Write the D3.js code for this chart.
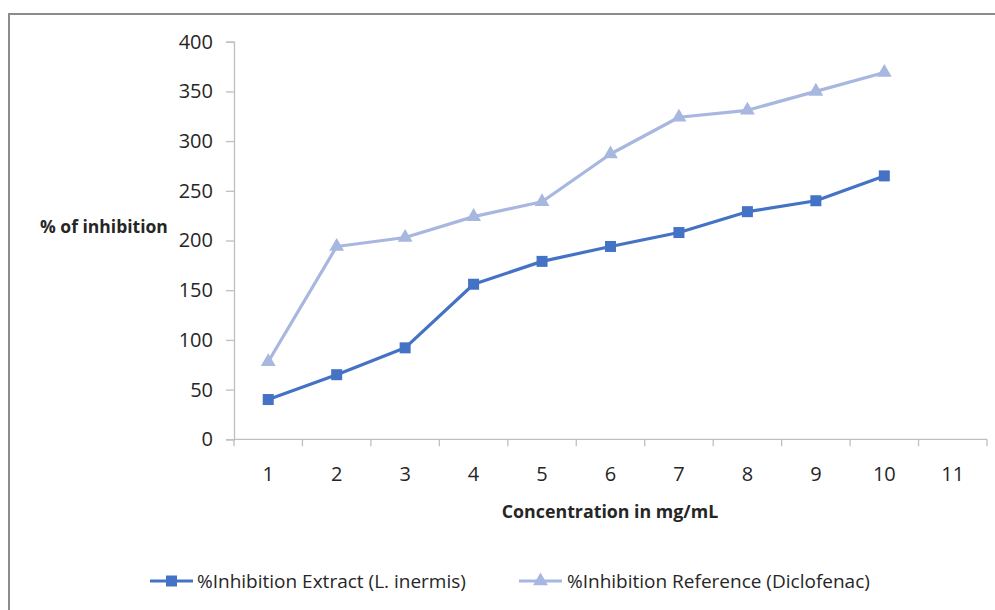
<!DOCTYPE html>
<html>
<head>
<meta charset="utf-8">
<script src="https://cdn.jsdelivr.net/npm/d3@7"></script>
<style>
  html, body { margin: 0; padding: 0; background: #fff; }
  svg { display: block; }
  text { font-family: "Open Sans", "DejaVu Sans", sans-serif; fill: #262626; }
</style>
</head>
<body>
<svg id="chart" width="995" height="610"></svg>
<script>
// Concentration levels (mg/mL) on the category axis
const categories = ["1", "2", "3", "4", "5", "6", "7", "8", "9", "10", "11"];
// % inhibition, Lawsonia inermis extract
const extractValues = [40, 65, 92, 156, 179, 194, 208, 229, 240, 265];
// % inhibition, diclofenac reference
const referenceValues = [78, 194, 203, 224, 239, 287, 324, 331, 350, 369];
const yTicks = [0, 50, 100, 150, 200, 250, 300, 350, 400];
const seriesNames = ["%Inhibition Extract (L. inermis)", "%Inhibition Reference (Diclofenac)"];

const colorExtract = "#4472C4";
const colorReference = "#A7B7E0";
const axisColor = "#BFBFBF";

const svg = d3.select("#chart");

// Outer chart frame
svg.append("path")
  .attr("d", "M9,610 L9,14 L995,14")
  .attr("fill", "none")
  .attr("stroke", "#8C8C8C")
  .attr("stroke-width", 2);

const plot = { left: 234, right: 987, top: 41.7, bottom: 439.3 };

const x = d3.scaleBand()
  .domain(categories)
  .range([plot.left, plot.right])
  .paddingInner(0).paddingOuter(0);

const y = d3.scaleLinear()
  .domain([0, 400])
  .range([plot.bottom, plot.top]);

// Y axis
const yAxis = svg.append("g")
  .attr("transform", `translate(${plot.left},0)`)
  .call(d3.axisLeft(y).tickValues(yTicks).tickSize(8).tickPadding(13));
yAxis.select(".domain").attr("stroke", axisColor).attr("stroke-width", 1.3);
yAxis.selectAll(".tick line").attr("stroke", axisColor).attr("stroke-width", 1.3);
yAxis.selectAll(".tick text")
  .attr("font-size", 20)
  .attr("font-family", "Open Sans, sans-serif")
  .attr("fill", "#262626");

// X axis: category axis with tick marks between categories
const xAxis = svg.append("g")
  .attr("transform", `translate(0,${plot.bottom})`);
xAxis.append("line")
  .attr("x1", plot.left).attr("x2", plot.right)
  .attr("y1", 0).attr("y2", 0)
  .attr("stroke", axisColor).attr("stroke-width", 1.3);
const boundaries = categories.map(c => x(c)).concat([x(categories[categories.length - 1]) + x.bandwidth()]);
xAxis.selectAll("line.tk")
  .data(boundaries)
  .join("line")
  .attr("class", "tk")
  .attr("x1", d => d).attr("x2", d => d)
  .attr("y1", 0).attr("y2", 7)
  .attr("stroke", axisColor).attr("stroke-width", 1.3);
xAxis.selectAll("text.lbl")
  .data(categories)
  .join("text")
  .attr("class", "lbl")
  .attr("x", d => x(d) + x.bandwidth() / 2)
  .attr("y", 41.5)
  .attr("text-anchor", "middle")
  .attr("font-size", 20)
  .text(d => d);

// Axis titles
svg.append("text")
  .attr("x", 40).attr("y", 233)
  .attr("font-size", 17.5)
  .attr("font-weight", "bold")
  .attr("fill", "#111")
  .text("% of inhibition");
svg.append("text")
  .attr("x", 610).attr("y", 518)
  .attr("text-anchor", "middle")
  .attr("font-size", 17.8)
  .attr("font-weight", "bold")
  .attr("fill", "#111")
  .text("Concentration in mg/mL");

const cx = (d, i) => x(categories[i]) + x.bandwidth() / 2;
const line = d3.line().x(cx).y(d => y(d));

const tri = d3.symbol().type(d3.symbolTriangle).size(95);

// Reference series
svg.append("path")
  .datum(referenceValues)
  .attr("fill", "none")
  .attr("stroke", colorReference)
  .attr("stroke-width", 3.2)
  .attr("stroke-linejoin", "round")
  .attr("d", line);
svg.selectAll("path.tri")
  .data(referenceValues)
  .join("path")
  .attr("class", "tri")
  .attr("transform", (d, i) => `translate(${cx(d, i)},${y(d)})`)
  .attr("d", tri)
  .attr("fill", colorReference);

// Extract series
svg.append("path")
  .datum(extractValues)
  .attr("fill", "none")
  .attr("stroke", colorExtract)
  .attr("stroke-width", 3.2)
  .attr("stroke-linejoin", "round")
  .attr("d", line);
svg.selectAll("rect.sq")
  .data(extractValues)
  .join("rect")
  .attr("class", "sq")
  .attr("x", (d, i) => cx(d, i) - 5.5)
  .attr("y", d => y(d) - 5.5)
  .attr("width", 11).attr("height", 11)
  .attr("fill", colorExtract);

// Legend
const legendY = 581;
const legendItems = [
  { name: seriesNames[0], color: colorExtract, marker: "square", x0: 150, text: 197 },
  { name: seriesNames[1], color: colorReference, marker: "triangle", x0: 519, text: 567 }
];
const lg = svg.append("g");
legendItems.forEach(it => {
  lg.append("line")
    .attr("x1", it.x0).attr("x2", it.x0 + 43)
    .attr("y1", legendY).attr("y2", legendY)
    .attr("stroke", it.color).attr("stroke-width", 3.2);
  if (it.marker === "square") {
    lg.append("rect")
      .attr("x", it.x0 + 21.5 - 5.5).attr("y", legendY - 5.5)
      .attr("width", 11).attr("height", 11)
      .attr("fill", it.color);
  } else {
    lg.append("path")
      .attr("transform", `translate(${it.x0 + 21.5},${legendY})`)
      .attr("d", tri)
      .attr("fill", it.color);
  }
  lg.append("text")
    .attr("x", it.text).attr("y", legendY + 7)
    .attr("font-size", 19)
    .text(it.name);
});
</script>
</body>
</html>
